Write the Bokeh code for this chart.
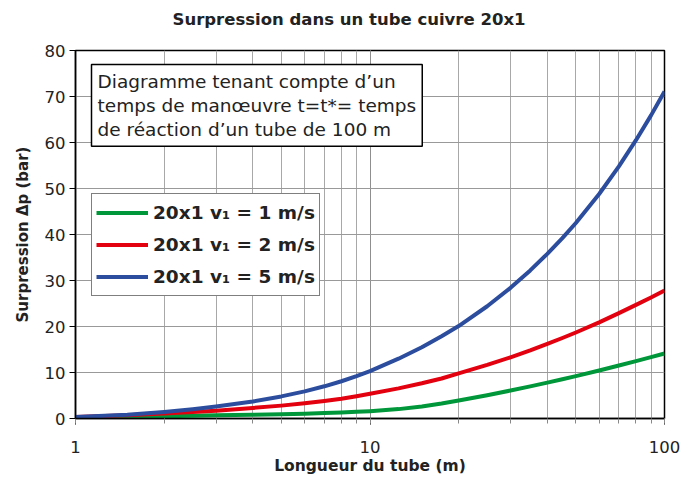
from bokeh.plotting import figure
from bokeh.models import Label, Legend, LegendItem, FixedTicker, LogTicker, Title
from bokeh.embed import file_html
from bokeh.resources import INLINE

# Data
length_m = [1, 1.5, 2, 2.5, 3, 4, 5, 6, 7, 8, 9, 10, 12.5, 15, 17.5, 20, 25, 30, 35, 40, 45, 50, 60, 70, 80, 90, 100]
dp_v1 = [0.2, 0.35, 0.5, 0.6, 0.7, 0.8, 0.95, 1.05, 1.2, 1.3, 1.45, 1.6, 2.04, 2.63, 3.27, 3.91, 5.07, 6.08, 6.98, 7.79, 8.53, 9.22, 10.44, 11.51, 12.47, 13.34, 14.14]
dp_v2 = [0.3, 0.7, 1.1, 1.4, 1.7, 2.3, 2.8, 3.3, 3.8, 4.3, 4.85, 5.4, 6.55, 7.65, 8.7, 9.8, 11.64, 13.3, 14.8, 16.2, 17.5, 18.7, 20.9, 22.9, 24.7, 26.3, 27.8]
dp_v5 = [0.3, 0.8, 1.4, 2.0, 2.6, 3.7, 4.8, 5.9, 7.0, 8.1, 9.2, 10.3, 13.0, 15.5, 17.9, 20.1, 24.4, 28.4, 32.2, 35.8, 39.2, 42.5, 48.8, 54.8, 60.5, 65.9, 71.1]
series_labels = ["20x1 v\u2081 = 1 m/s", "20x1 v\u2081 = 2 m/s", "20x1 v\u2081 = 5 m/s"]
series_colors = ["#00973a", "#e3000f", "#2c4d9e"]
y_ticks = [0, 10, 20, 30, 40, 50, 60, 70, 80]

FONT = "DejaVu Sans"

p = figure(width=690, height=477, x_axis_type="log", x_range=(1, 100), y_range=(0, 80),
           output_backend="svg", toolbar_location=None,
           min_border_left=75, min_border_right=26, min_border_top=50, min_border_bottom=59)
# spacer between the title and the plot frame
spacer = Title(text=" ", text_font_size="1px", standoff=8)
p.add_layout(spacer, "above")
t = Title(text="Surpression dans un tube cuivre 20x1", align="left", offset=97,
          vertical_align="top", standoff=18,
          text_font=FONT, text_font_size="16.5px", text_font_style="bold",
          text_color="#222222")
p.add_layout(t, "above")

p.outline_line_color = "black"
p.outline_line_width = 1.5

# grids
p.xgrid.ticker = LogTicker(num_minor_ticks=10)
p.xgrid.grid_line_color = "#8f8f8f"
p.xgrid.minor_grid_line_color = "#a8a8a8"
p.xgrid.grid_line_width = 1
p.ygrid.grid_line_color = "#999999"
p.ygrid.ticker = FixedTicker(ticks=y_ticks)

# axes
p.xaxis.ticker = LogTicker(num_minor_ticks=10)
p.xaxis.major_label_overrides = {1: "1", 10: "10", 100: "100"}
p.yaxis.ticker = FixedTicker(ticks=y_ticks)
for ax in (p.xaxis, p.yaxis):
    ax.axis_line_color = "black"
    ax.axis_line_width = 1.5
    ax.major_tick_line_color = "black"
    ax.major_tick_in = 0
    ax.major_tick_out = 6
    ax.major_label_text_font = FONT
    ax.major_label_text_font_size = "16.5px"
    ax.major_label_text_color = "#222222"
    ax.axis_label_text_font = FONT
    ax.axis_label_text_font_style = "bold"
    ax.axis_label_text_color = "#222222"
p.xaxis.axis_label_text_font_size = "15.5px"
p.yaxis.axis_label_text_font_size = "15px"
p.xaxis.minor_tick_line_color = "#888888"
p.xaxis.minor_tick_in = 0
p.xaxis.minor_tick_out = 5
p.yaxis.minor_tick_line_color = None
p.xaxis.major_label_standoff = 16
p.yaxis.major_label_standoff = 4
p.xaxis.axis_label = "Longueur du tube (m)"
p.xaxis.axis_label_standoff = 1
p.yaxis.axis_label = "Surpression \u0394p (bar)"
p.yaxis.axis_label_standoff = 10

renderers = []
for ys, c in zip([dp_v1, dp_v2, dp_v5], series_colors):
    r = p.line(length_m, ys, line_color=c, line_width=4, line_join="round")
    renderers.append(r)

legend = Legend(items=[LegendItem(label=lab, renderers=[r]) for lab, r in zip(series_labels, renderers)],
                location=(16, 122), orientation="vertical",
                label_text_font=FONT, label_text_font_size="18.5px", label_text_font_style="bold",
                label_text_color="#222222",
                glyph_width=52, glyph_height=29, label_height=29, spacing=3, padding=4, margin=0,
                border_line_color="black", border_line_width=1.5,
                background_fill_color="white", background_fill_alpha=1)
p.add_layout(legend, "center")

note = Label(x=16, y=354, x_units="screen", y_units="screen",
             text="Diagramme tenant compte d\u2019un\ntemps de man\u0153uvre t=t*= temps\nde r\u00e9action d\u2019un tube de 100 m",
             text_font=FONT, text_font_size="18.5px", text_color="#222222",
             text_baseline="top", text_align="left", text_line_height=1.16,
             border_line_color="black", border_line_width=1.5,
             background_fill_color="white", background_fill_alpha=1,
             padding=6)
p.add_layout(note)

open("out.html", "w").write(file_html(p, INLINE))
